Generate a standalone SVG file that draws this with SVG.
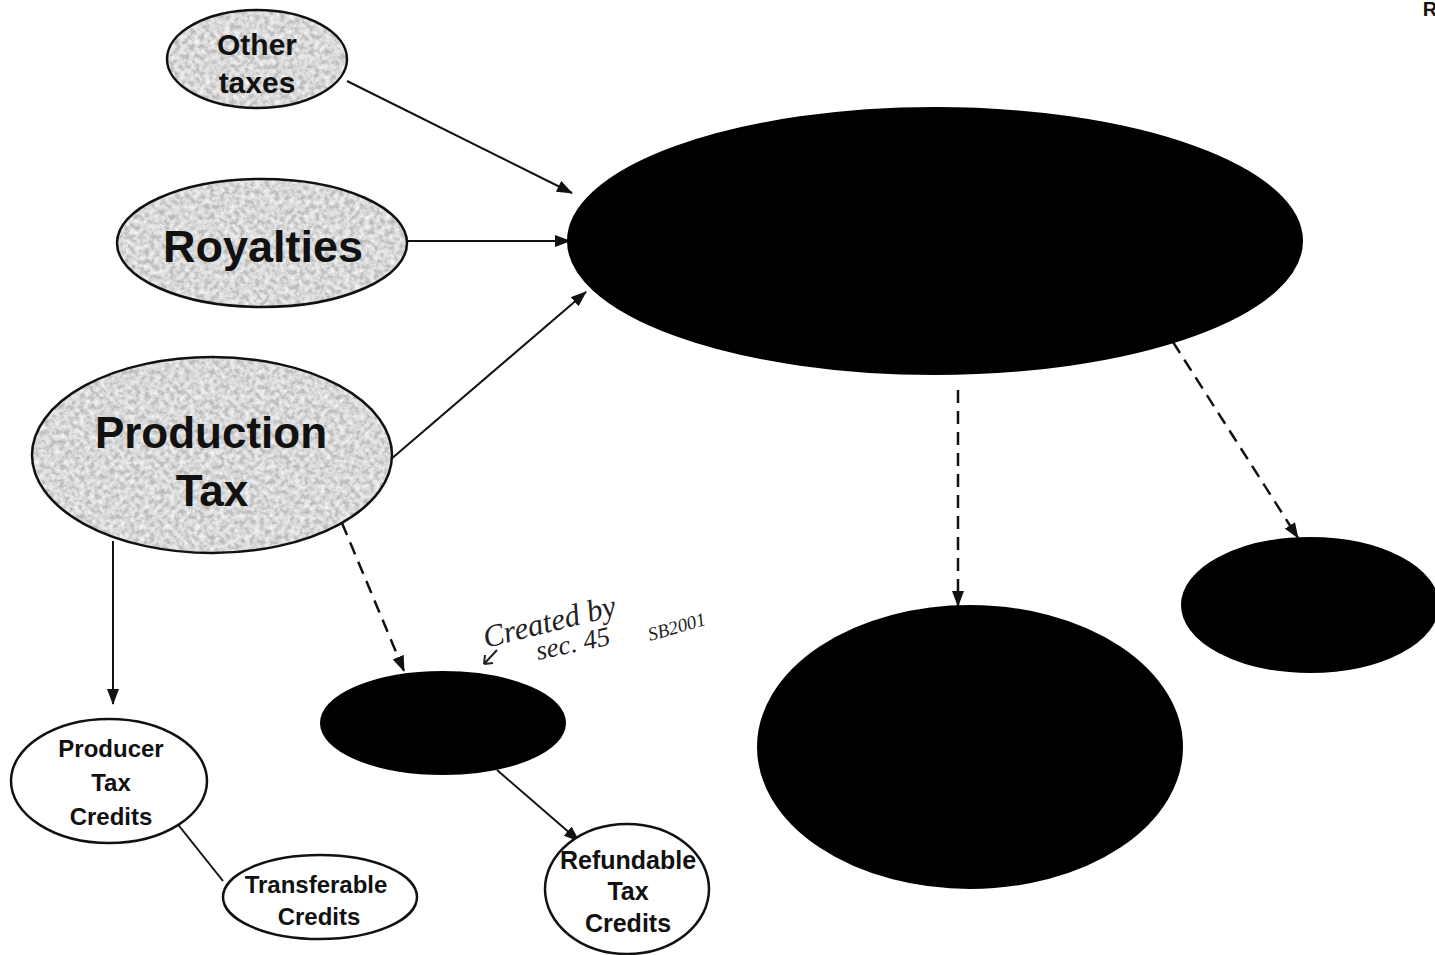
<svg xmlns="http://www.w3.org/2000/svg" width="1435" height="955" viewBox="0 0 1435 955">
  <style>
    .grey { fill: #cbcbcb; stroke: none; filter: url(#grain); }
    .rim { fill: none; stroke: #111; stroke-width: 2.5; }
    .white { fill: #fff; stroke: #111; stroke-width: 2.5; }
    .black { fill: #000; stroke: #000; stroke-width: 2; }
    .lbl { font-family: "Liberation Sans", Arial, sans-serif; font-weight: bold; fill: #111; text-anchor: middle; }
    .conn { stroke: #111; stroke-width: 2; fill: none; }
    .solid { marker-end: url(#ah); }
    .dash { stroke-width: 2.5; stroke-dasharray: 13 8; marker-end: url(#ah); }
    .hand { font-family: "Liberation Serif", serif; font-style: italic; fill: #222; }
  </style>
  <defs>
    <marker id="ah" viewBox="0 0 16 12" refX="15" refY="6" markerWidth="16" markerHeight="12" markerUnits="userSpaceOnUse" orient="auto">
      <path d="M0,0 L16,6 L0,12 Z" fill="#111"/>
    </marker>
    <filter id="grain" x="0" y="0" width="100%" height="100%">
      <feTurbulence type="fractalNoise" baseFrequency="0.2" numOctaves="3" seed="7" result="n"/>
      <feColorMatrix in="n" type="matrix" values="0 0 0 0 0.35  0 0 0 0 0.35  0 0 0 0 0.35  -1.4 0 0 0 0.7" result="dark"/>
      <feComposite in="dark" in2="SourceGraphic" operator="in" result="darkIn"/>
      <feColorMatrix in="n" type="matrix" values="0 0 0 0 1  0 0 0 0 1  0 0 0 0 1  1.6 0 0 0 -0.55" result="light"/>
      <feComposite in="light" in2="SourceGraphic" operator="in" result="lightIn"/>
      <feMerge><feMergeNode in="SourceGraphic"/><feMergeNode in="darkIn"/><feMergeNode in="lightIn"/></feMerge>
    </filter>
  </defs>
  <rect width="1435" height="955" fill="#fff"/>

  <g id="connectors">
    <line class="conn solid" x1="347" y1="81" x2="572" y2="193"/>
    <line class="conn solid" x1="408" y1="241" x2="570" y2="241"/>
    <line class="conn solid" x1="390" y1="460" x2="586" y2="292"/>
    <line class="conn solid" x1="113" y1="541" x2="113" y2="704"/>
    <line class="conn dash" x1="342" y1="523" x2="404" y2="671"/>
    <line class="conn solid" x1="497" y1="770" x2="579" y2="841"/>
    <line class="conn dash" x1="958" y1="390" x2="958" y2="606"/>
    <line class="conn dash" x1="1173" y1="342" x2="1298" y2="538"/>
    <line class="conn" x1="176" y1="822" x2="223" y2="881"/>
  </g>

  <g id="other-taxes">
    <ellipse class="grey" cx="257" cy="59" rx="90" ry="49"/>
    <ellipse class="rim" cx="257" cy="59" rx="90" ry="49"/>
    <text class="lbl" x="257" y="55" font-size="30">Other</text>
    <text class="lbl" x="257" y="93" font-size="30">taxes</text>
  </g>
  <g id="royalties">
    <ellipse class="grey" cx="262" cy="243" rx="145" ry="64"/>
    <ellipse class="rim" cx="262" cy="243" rx="145" ry="64"/>
    <text class="lbl" x="263" y="262" font-size="45">Royalties</text>
  </g>
  <g id="production-tax">
    <ellipse class="grey" cx="212" cy="455" rx="180" ry="98"/>
    <ellipse class="rim" cx="212" cy="455" rx="180" ry="98"/>
    <text class="lbl" x="211" y="448" font-size="44">Production</text>
    <text class="lbl" x="212" y="506" font-size="44">Tax</text>
  </g>
  <g id="main-black">
    <ellipse class="black" cx="935" cy="241" rx="367" ry="133"/>
  </g>
  <g id="bottom-black">
    <ellipse class="black" cx="970" cy="747" rx="212" ry="141"/>
  </g>
  <g id="right-black">
    <ellipse class="black" cx="1310" cy="605" rx="128" ry="67"/>
  </g>
  <g id="small-black">
    <ellipse class="black" cx="443" cy="723" rx="122" ry="51"/>
  </g>
  <g id="producer-tax-credits">
    <ellipse class="white" cx="109" cy="781" rx="98" ry="62"/>
    <text class="lbl" x="111" y="757" font-size="24">Producer</text>
    <text class="lbl" x="111" y="791" font-size="24">Tax</text>
    <text class="lbl" x="111" y="825" font-size="24">Credits</text>
  </g>
  <g id="transferable-credits">
    <ellipse class="white" cx="320" cy="897" rx="97" ry="42"/>
    <text class="lbl" x="316" y="893" font-size="24">Transferable</text>
    <text class="lbl" x="319" y="925" font-size="24">Credits</text>
  </g>
  <g id="refundable-tax-credits">
    <ellipse class="white" cx="627" cy="889" rx="82" ry="65"/>
    <text class="lbl" x="628" y="869" font-size="25">Refundable</text>
    <text class="lbl" x="628" y="900" font-size="25">Tax</text>
    <text class="lbl" x="628" y="932" font-size="25">Credits</text>
  </g>

  <g id="note">
    <text class="hand" font-size="31" transform="translate(486,648) rotate(-14)">Created by</text>
    <text class="hand" font-size="27" transform="translate(538,660) rotate(-12)">sec. 45</text>
    <text class="hand" font-size="19" transform="translate(650,641) rotate(-16)">SB2001</text>
    <path d="M497,650 L484,664 M484,664 L485,655 M484,664 L493,663" stroke="#222" stroke-width="2" fill="none"/>
  </g>

  <text class="lbl" x="1430" y="16" font-size="20" font-weight="normal">R</text>
</svg>
